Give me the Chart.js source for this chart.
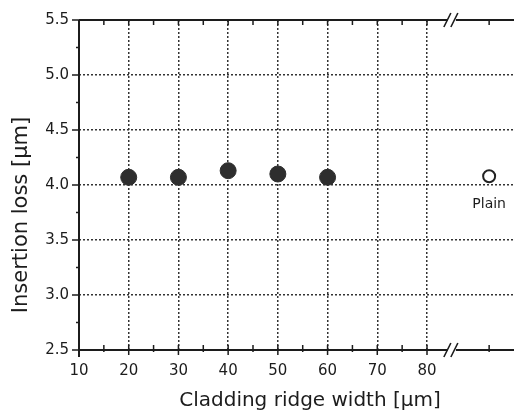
<!DOCTYPE html>
<html>
<head>
<meta charset="utf-8">
<script src="https://cdn.jsdelivr.net/npm/chart.js@4.4.1/dist/chart.umd.min.js"></script>
<style>
html,body{margin:0;padding:0;background:#fff;}
#wrap{width:514px;height:411px;}
</style>
</head>
<body>
<div id="wrap"><canvas id="c" width="514" height="411"></canvas></div>
<script>
// ---- data ----
const ridgeWidths = [20, 30, 40, 50, 60];
const insertionLoss = [4.07, 4.07, 4.13, 4.10, 4.07];
const plainX = [92.5];
const plainLoss = [4.08];
const plainLabel = 'Plain';
const xTickValues = [10, 20, 30, 40, 50, 60, 70, 80];
const yTickValues = [2.5, 3.0, 3.5, 4.0, 4.5, 5.0, 5.5];
const xTitle = 'Cladding ridge width [\u03bcm]';
const yTitle = 'Insertion loss [\u03bcm]';

const INK = '#1c1c1c';
const FONT = '"DejaVu Sans", sans-serif';
const BREAK_AT = 85;
const X_MIN = 10, X_MAX = 97.5;

const framePlugin = {
  id: 'frame',
  afterDraw(chart) {
    const ctx = chart.ctx;
    const xs = chart.scales.x, ys = chart.scales.y;
    const a = chart.chartArea;
    const top = ys.getPixelForValue(5.5), bot = ys.getPixelForValue(2.5);
    const left = xs.getPixelForValue(10), right = a.right;
    ctx.save();
    ctx.strokeStyle = INK;
    ctx.lineWidth = 2;
    ctx.beginPath();
    ctx.moveTo(left, top); ctx.lineTo(right, top);
    ctx.moveTo(left, bot); ctx.lineTo(right, bot);
    ctx.moveTo(left, top); ctx.lineTo(left, bot + 7);
    ctx.stroke();
    ctx.lineWidth = 1.5;
    ctx.beginPath();
    const xt = [];
    for (let v = 15; v <= 80; v += 5) xt.push(v);
    xt.push(plainX[0]);
    xt.forEach(v => {
      const px = xs.getPixelForValue(v);
      const major = v % 10 === 0 && v <= 80;
      ctx.moveTo(px, bot + (major ? 5 : 2)); ctx.lineTo(px, bot - 5);
      ctx.moveTo(px, top); ctx.lineTo(px, top + 5);
    });
    for (let v = 2.5; v <= 5.5001; v += 0.25) {
      const py = ys.getPixelForValue(v);
      const major = Math.abs(v * 2 - Math.round(v * 2)) < 1e-6;
      ctx.moveTo(left - (major ? 7 : 3), py); ctx.lineTo(left, py);
    }
    ctx.stroke();
    const bx = xs.getPixelForValue(BREAK_AT);
    [top, bot].forEach(y => {
      ctx.fillStyle = '#fff';
      ctx.fillRect(bx - 4, y - 2, 8, 4);
      ctx.strokeStyle = INK;
      ctx.lineWidth = 1.6;
      ctx.beginPath();
      ctx.moveTo(bx - 8, y + 7); ctx.lineTo(bx - 1, y - 7);
      ctx.moveTo(bx - 1, y + 7); ctx.lineTo(bx + 6, y - 7);
      ctx.stroke();
    });
    ctx.fillStyle = INK;
    ctx.font = '14px ' + FONT;
    ctx.textAlign = 'center';
    ctx.textBaseline = 'middle';
    ctx.fillText(plainLabel, xs.getPixelForValue(plainX[0]), ys.getPixelForValue(plainLoss[0]) + 28);
    ctx.font = '20px ' + FONT;
    ctx.textBaseline = 'alphabetic';
    ctx.fillText(xTitle, 310, 406);
    ctx.save();
    ctx.translate(22, 215);
    ctx.rotate(-Math.PI / 2);
    ctx.font = '21px ' + FONT;
    ctx.textBaseline = 'middle';
    ctx.fillText(yTitle, 0, 0);
    ctx.restore();
    ctx.restore();
  }
};

const shown = v => xTickValues.includes(v);

new Chart(document.getElementById('c'), {
  type: 'scatter',
  data: {
    datasets: [
      {
        data: ridgeWidths.map((x, i) => ({ x, y: insertionLoss[i] })),
        pointRadius: 8,
        pointBackgroundColor: '#2e2e2e',
        pointBorderColor: '#2e2e2e',
        pointBorderWidth: 1
      },
      {
        data: plainX.map((x, i) => ({ x, y: plainLoss[i] })),
        pointRadius: 6,
        pointBackgroundColor: '#fff',
        pointBorderColor: '#222',
        pointBorderWidth: 2
      }
    ]
  },
  options: {
    responsive: false,
    devicePixelRatio: 1,
    animation: false,
    layout: { autoPadding: false, padding: { top: 20, right: 0, left: 0, bottom: 0 } },
    plugins: { legend: { display: false }, tooltip: { enabled: false } },
    scales: {
      x: {
        type: 'linear',
        min: X_MIN,
        max: X_MAX,
        afterBuildTicks: s => { s.ticks = xTickValues.map(v => ({ value: v })); },
        afterFit: s => { s.height = 61; s.paddingLeft = 0; s.paddingRight = 0; },
        border: { display: false, dash: [2, 2] },
        grid: {
          drawTicks: false,
          lineWidth: 1.5,
          color: ctx => (ctx.tick && ctx.tick.value !== 10) ? '#333' : 'rgba(0,0,0,0)'
        },
        ticks: {
          color: INK,
          font: { family: FONT, size: 15 },
          padding: 12,
          maxRotation: 0,
          autoSkip: false,
          callback: v => String(v)
        }
      },
      y: {
        min: 2.5,
        max: 5.5,
        afterBuildTicks: s => { s.ticks = yTickValues.map(v => ({ value: v })); },
        afterFit: s => { s.width = 79; s.paddingTop = 0; s.paddingBottom = 0; },
        border: { display: false, dash: [2, 2] },
        grid: {
          drawTicks: false,
          lineWidth: 1.5,
          color: ctx => (ctx.tick && (ctx.tick.value === 2.5 || ctx.tick.value === 5.5)) ? 'rgba(0,0,0,0)' : '#333'
        },
        ticks: {
          color: INK,
          font: { family: FONT, size: 15 },
          padding: 10,
          callback: v => v.toFixed(1)
        }
      }
    }
  },
  plugins: [framePlugin]
});
</script>
</body>
</html>
